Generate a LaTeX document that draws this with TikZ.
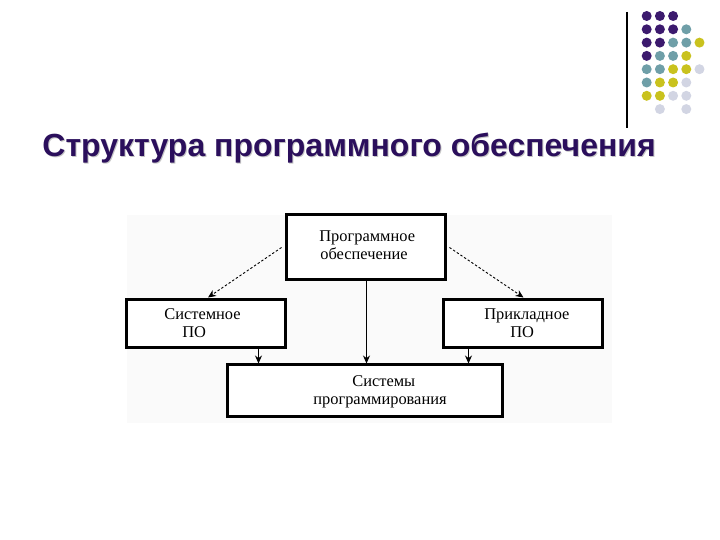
\documentclass[tikz,border=0pt]{standalone}
\usepackage{fontspec}
\setmainfont{Liberation Serif}
\newfontfamily\titlefont{Liberation Sans}
\usetikzlibrary{arrows.meta,calc}

\definecolor{titlecol}{HTML}{2B0F5C}
\definecolor{dotP}{HTML}{3C1A6E}
\definecolor{dotT}{HTML}{6F9FA8}
\definecolor{dotY}{HTML}{C9C21E}
\definecolor{dotL}{HTML}{D2D5E3}

\tikzset{
  box/.style={draw=black, line width=1.5pt, fill=white, inner sep=0pt},
  lbl/.style={font=\fontsize{8.2}{9.5}\selectfont, anchor=base west, inner sep=0pt},
  tip/.style={-{Stealth[length=4pt,width=3.5pt]}},
  conn/.style={tip, line width=0.45pt},
  dconn/.style={conn, dash pattern=on 1.2pt off 1pt},
  ttl/.style={font=\titlefont\bfseries\fontsize{16}{19}\selectfont, anchor=base west, inner sep=0pt}
}

\begin{document}
\begin{tikzpicture}[x=0.5pt,y=-0.5pt]
\useasboundingbox (0,0) rectangle (720,540);

% Decoration: rule and dots
\draw[line width=1pt] (627,12) -- (627,128);
\foreach \i/\j/\c in {
  1/1/dotP, 2/1/dotP, 3/1/dotP,
  1/2/dotP, 2/2/dotP, 3/2/dotP, 4/2/dotT,
  1/3/dotP, 2/3/dotP, 3/3/dotT, 4/3/dotT, 5/3/dotY,
  1/4/dotP, 2/4/dotT, 3/4/dotT, 4/4/dotY,
  1/5/dotT, 2/5/dotT, 3/5/dotY, 4/5/dotY, 5/5/dotL,
  1/6/dotT, 2/6/dotY, 3/6/dotY, 4/6/dotL,
  1/7/dotY, 2/7/dotY, 3/7/dotL, 4/7/dotL,
  2/8/dotL, 4/8/dotL}
  \fill[\c] ({646.7+13.2*(\i-1)},{16+13.3*(\j-1)}) circle (5);

% Title with shadow
\node[ttl, text=gray!45] (shadow) at (43,158) {Структура программного обеспечения};
\node[ttl, text=titlecol] (title) at (42,157) {Структура программного обеспечения};

% Diagram background
\fill[black!2] (127,215) rectangle (612,423);

% Boxes (sizes in pt = half the pixel size)
\node[box, minimum width=79.5pt, minimum height=32.5pt] (po) at (366.5,247.5) {};
\node[box, minimum width=79.5pt, minimum height=24pt] (sys) at (206.5,324) {};
\node[box, minimum width=79.5pt, minimum height=24pt] (app) at (523.5,324) {};
\node[box, minimum width=137.5pt, minimum height=26pt] (prog) at (365.5,391) {};

% Box texts
\node[lbl] (po1) at (319,242) {Программное};
\node[lbl] (po2) at (320,260) {обеспечение};
\node[lbl] (sys1) at (164,320) {Системное};
\node[lbl] (sys2) at (182,338) {ПО};
\node[lbl] (app1) at (484,320) {Прикладное};
\node[lbl] (app2) at (510,338) {ПО};
\node[lbl] (prog1) at (352,387) {Системы};
\node[lbl] (prog2) at (313,405) {программирования};

% Connectors
\draw[dconn] ($(po.west)+(-4,0)$) -- ($(sys.north)+(1.5,-1)$);
\draw[dconn] ($(po.east)+(2,0)$) -- ($(app.north)+(0,-1)$);
\draw[conn] (po.south) -- (po.south |- prog.north);
\coordinate (s1) at ($(sys.south east)+(-29,0)$);
\coordinate (a1) at ($(app.south west)+(26,0)$);
\draw[conn] (s1) -- (s1 |- prog.north);
\draw[conn] (a1) -- (a1 |- prog.north);

\end{tikzpicture}
\end{document}
